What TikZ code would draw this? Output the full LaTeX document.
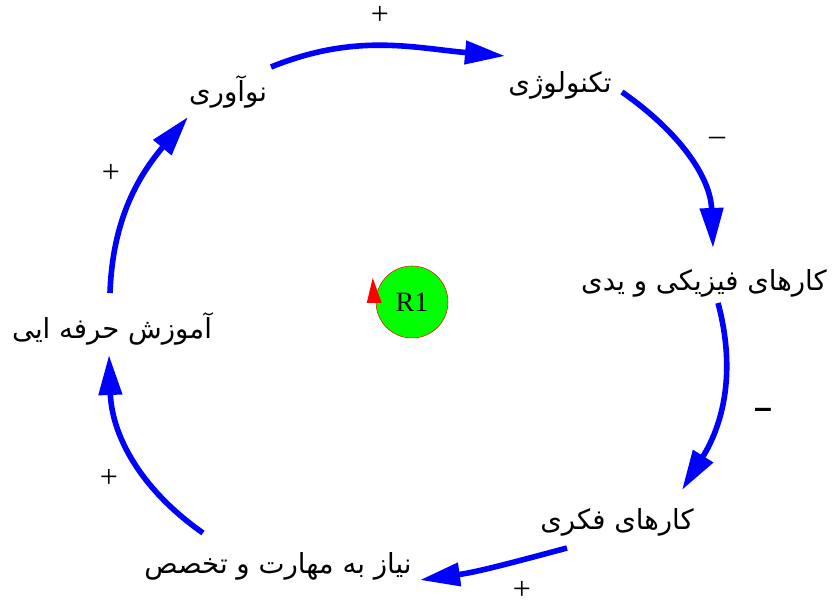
\documentclass[tikz,border=0pt]{standalone}
\usepackage{fontspec}
\newfontfamily\farsi[Script=Arabic]{DejaVu Sans}
\newfontfamily\signfont{Liberation Serif}
\newfontfamily\boldsign{Liberation Sans}
\TeXXeTstate=1
\usetikzlibrary{arrows.meta}

\begin{document}
\begin{tikzpicture}[x=0.75pt, y=0.75pt,
	  factor/.style={inner sep=2pt, font=\farsi\fontsize{20.7}{24}\selectfont},
	  link/.style={draw=blue, line width=4.2pt, -{Triangle[length=30pt, width=17pt]}},
	  polarity/.style={inner sep=0pt, font=\signfont\fontsize{24}{26}\selectfont},
	  loopname/.style={circle, draw=red, fill=green, minimum size=54pt, inner sep=0pt, font=\signfont\fontsize{21}{23}\selectfont}
	]
	\useasboundingbox (0,0) rectangle (838,605);

	\node (inov) [factor] at (228,513) {\beginR نوآوری\endR};
	\node (tech) [factor] at (560,520) {\beginR تکنولوژی\endR};
	\node (phys) [factor] at (704,322) {\beginR کارهای فیزیکی و یدی\endR};
	\node (fekri) [factor] at (617,83) {\beginR کارهای فکری\endR};
	\node (skill) [factor] at (278,39) {\beginR نیاز به مهارت و تخصص\endR};
	\node (train) [factor] at (112,276) {\beginR آموزش حرفه ایی\endR};
	\node (loop) [loopname] at (412,303) {R1};
	\fill [red] ([shift={(-9,-1)}]loop.west) -- ([shift={(-3,24)}]loop.west) -- ([shift={(6,-1)}]loop.west) -- cycle;

	\draw [link] ([shift={(43,25)}]inov.center) to[out=22,in=175] ([shift={(-55,29)}]tech.center);
	\draw [link] ([shift={(62,-7)}]tech.center) to[out=-35,in=92] ([shift={(9,35)}]phys.center);
	\draw [link] ([shift={(14,-20)}]phys.center) to[out=-75,in=58] ([shift={(65,32)}]fekri.center);
	\draw [link] ([shift={(-50,-26)}]fekri.center) to[out=195,in=8] ([shift={(142,-14)}]skill.center);
	\draw [link] ([shift={(-75,33)}]skill.center) to[out=145,in=-88] ([shift={(-3,-26)}]train.center);
	\draw [link] ([shift={(-2,36)}]train.center) to[out=88,in=-130] ([shift={(-40,-25)}]inov.center);

	\node (p1) [polarity] at (380,590) {+};
	\node (p2) [polarity] at (717,464) {–};
	\node (p3) [polarity, font=\boldsign\bfseries\fontsize{24}{26}\selectfont] at (763,192) {–};
	\node (p4) [polarity] at (522,15) {+};
	\node (p5) [polarity] at (109,127) {+};
	\node (p6) [polarity] at (111,432) {+};

	\end{tikzpicture}
\end{document}
